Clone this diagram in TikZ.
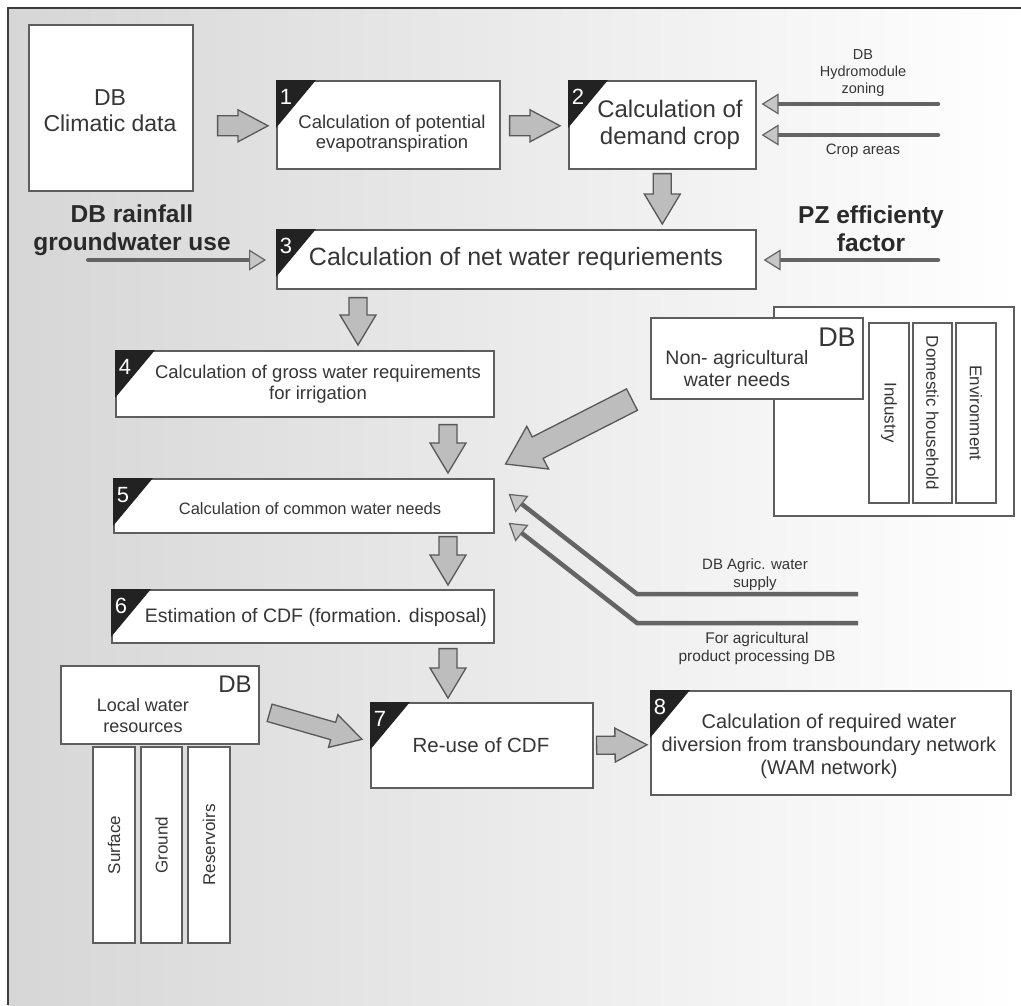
\documentclass[tikz,border=0pt]{standalone}
\usepackage{fontspec}
\setmainfont{Liberation Sans}
\usetikzlibrary{calc,arrows.meta}

\definecolor{boxline}{HTML}{5E5E5E}
\definecolor{txt}{HTML}{363636}
\definecolor{boldtxt}{HTML}{2A2A2A}
\definecolor{arrowfill}{HTML}{BDBDBD}
\definecolor{arrowline}{HTML}{585858}
\definecolor{feedline}{HTML}{646464}
\definecolor{tipfill}{HTML}{C6C6C6}
\definecolor{cornerfill}{HTML}{222222}
\definecolor{framecol}{HTML}{3C3C3C}

\newcommand{\fs}[2]{\fontsize{#1}{#2}\selectfont}

% wide outlined arrow: start, end, half shaft width, half head width, head length
\newcommand{\blockarr}[5]{%
  \path ($(#2)!#5!(#1)$) coordinate (ba-neck);
  \filldraw[barrowstyle] ($(#1)!#3!90:(#2)$) -- ($(ba-neck)!#3!90:(#2)$)
    -- ($(ba-neck)!#4!90:(#2)$) -- (#2) -- ($(ba-neck)!#4!-90:(#2)$)
    -- ($(ba-neck)!#3!-90:(#2)$) -- ($(#1)!#3!-90:(#2)$) -- cycle;}

% black step marker in the upper left corner of a box
\newcommand{\stepcorner}[2]{%
  \fill[cornerfill] (#1.north west) -- ++(40,0) -- ++(-40,48) -- cycle;
  \node[num] (#1-num) at ($(#1.north west)+(10,17)$) {#2};}

\begin{document}
\begin{tikzpicture}[x=1pt,y=-1pt,
  box/.style={draw=boxline, line width=1.6pt, fill=white, inner sep=0pt, anchor=north west},
  vbox/.style={draw=boxline, line width=1.6pt, fill=white, inner sep=0pt, text=txt, font=\fs{17}{20}},
  lbl/.style={text=txt, align=center, inner sep=0pt},
  boldlbl/.style={text=boldtxt, align=center, inner sep=0pt, font=\bfseries\fs{24.5}{28}},
  num/.style={text=white, font=\fs{22}{22}, inner sep=0pt},
  barrowstyle/.style={fill=arrowfill, draw=arrowline, line width=1.3pt, line join=miter},
  feed/.style={draw=feedline, line width=4.5pt, line cap=round,
    -{Triangle[length=17pt, width=21pt, line width=1.2pt, fill=tipfill]}},
]
\useasboundingbox (0,0) rectangle (1021,1005);

% background and frame
\shade[left color=black!16, right color=white] (8,8) rectangle (1021,1005);
\draw[framecol, line width=2pt] (1021,8) -- (8,8) -- (8,1005);

% climatic database
\node[box, minimum width=164, minimum height=166] (db) at (28,24) {};
\node[lbl, font=\fs{23}{26}] (db-t) at (110,111) {DB\\Climatic data};

% main calculation chain
\node[box, minimum width=223, minimum height=88] (b1) at (276,80) {};
\node[lbl, font=\fs{18.5}{20}] (b1-t) at (392,134) {Calculation of potential\\evapotranspiration};
\stepcorner{b1}{1}

\node[box, minimum width=187, minimum height=88] (b2) at (568,80) {};
\node[lbl, font=\fs{24}{27}] (b2-t) at (670,125) {Calculation of\\demand crop};
\stepcorner{b2}{2}

\node[box, minimum width=479, minimum height=59] (b3) at (276,229) {};
\node[lbl, font=\fs{25}{28}] (b3-t) at (516,259) {Calculation of net water requriements};
\stepcorner{b3}{3}

\node[box, minimum width=378, minimum height=66] (b4) at (115,350) {};
\node[lbl, font=\fs{18.5}{21}] (b4-t) at (318,384) {Calculation of gross water requirements\\for irrigation};
\stepcorner{b4}{4}

\node[box, minimum width=380, minimum height=54] (b5) at (113,478) {};
\node[lbl, font=\fs{16.5}{19}] (b5-t) at (310,509) {Calculation of common water needs};
\stepcorner{b5}{5}

\node[box, minimum width=382, minimum height=53] (b6) at (111,589) {};
\node[lbl, font=\fs{19.5}{22}] (b6-t) at (316,617) {Estimation of CDF (formation. disposal)};
\stepcorner{b6}{6}

\node[box, minimum width=222, minimum height=85] (b7) at (370,702) {};
\node[lbl, font=\fs{20.5}{23}] (b7-t) at (481,745) {Re-use of CDF};
\stepcorner{b7}{7}

\node[box, minimum width=360, minimum height=104] (b8) at (650,690) {};
\node[lbl, font=\fs{20}{23}] (b8-t) at (829,746) {Calculation of required water\\diversion from transboundary network\\(WAM network)};
\stepcorner{b8}{8}

% non-agricultural water needs database
\node[box, minimum width=240, minimum height=209] (naout) at (773,306) {};
\node[box, minimum width=212, minimum height=81] (na) at (650,317) {};
\node[lbl, font=\fs{27}{30}] (na-db) at (837,337) {DB};
\node[lbl, font=\fs{19.5}{22}] (na-t) at (737,369) {Non- agricultural\\water needs};
\node[vbox, rotate=-90, minimum width=180, minimum height=40] (ind) at (889,413) {Industry};
\node[vbox, rotate=-90, minimum width=180, minimum height=39] (dom) at (932.5,413) {Domestic household};
\node[vbox, rotate=-90, minimum width=180, minimum height=40] (env) at (976,413) {Environment};

% local water resources database
\node[box, minimum width=198, minimum height=78] (lw) at (60,665) {};
\node[lbl, font=\fs{24}{27}] (lw-db) at (235,684) {DB};
\node[lbl, font=\fs{18}{21}] (lw-t) at (143,716) {Local water\\resources};
\node[vbox, rotate=90, minimum width=196, minimum height=42] (sur) at (114,845) {Surface};
\node[vbox, rotate=90, minimum width=196, minimum height=41] (gro) at (161.5,845) {Ground};
\node[vbox, rotate=90, minimum width=196, minimum height=42] (res) at (209,845) {Reservoirs};

% input labels
\node[lbl, font=\fs{14.5}{17}] (hydro-t) at (863,73) {DB\\Hydromodule\\zoning};
\node[lbl, font=\fs{15}{18}] (crop-t) at (863,151) {Crop areas};
\node[boldlbl] (rain-t) at (132,230) {DB rainfall\\groundwater use};
\node[boldlbl] (pz-t) at (871,229) {PZ efficienty\\factor};
\node[lbl, font=\fs{15}{18}] (agr-t) at (755,575) {DB Agric. water\\supply};
\node[lbl, font=\fs{15.5}{18}] (proc-t) at (757,648) {For agricultural\\product processing DB};

% wide flow arrows
\coordinate (a0s) at ($(db.east |- b1.west)+(24,1)$);
\coordinate (a0e) at ($(b1.west)+(-8,1)$);
\coordinate (a12s) at ($(b1.east)+(9,1)$);
\coordinate (a12e) at ($(b2.west)+(-8,1)$);
\coordinate (a23s) at ($(b2.south)+(0,4)$);
\coordinate (a23e) at ($(b3.north -| b2.south)+(0,-5)$);
\coordinate (a34s) at ($(b3.south west)+(82,8)$);
\coordinate (a34e) at ($(b4.north west)+(243,-5)$);
\coordinate (a45s) at ($(b4.south west)+(333,7)$);
\coordinate (a45e) at ($(b5.north west)+(335,-5)$);
\coordinate (a56s) at ($(b5.south west)+(335,3)$);
\coordinate (a56e) at ($(b6.north west)+(337,-4)$);
\coordinate (a67s) at ($(b6.south west)+(337,5)$);
\coordinate (a67e) at ($(b7.north west)+(78,-4)$);
\coordinate (anas) at ($(na.south west)+(-18,0)$);
\coordinate (anae) at ($(b5.north east)+(11,-14)$);
\coordinate (alws) at ($(lw.east)+(10,8)$);
\coordinate (alwe) at ($(b7.west)+(-8,-6)$);
\coordinate (a78s) at ($(b7.east)+(3,0)$);
\coordinate (a78e) at ($(b8.west)+(-3,2)$);

\blockarr{a0s}{a0e}{10pt}{16pt}{30pt}
\blockarr{a12s}{a12e}{10pt}{16pt}{30pt}
\blockarr{a23s}{a23e}{9pt}{18pt}{30pt}
\blockarr{a34s}{a34e}{9pt}{18pt}{30pt}
\blockarr{a45s}{a45e}{9pt}{18pt}{30pt}
\blockarr{a56s}{a56e}{9pt}{18pt}{30pt}
\blockarr{a67s}{a67e}{9pt}{18pt}{30pt}
\blockarr{anas}{anae}{12pt}{24pt}{36pt}
\blockarr{alws}{alwe}{9pt}{17pt}{30pt}
\blockarr{a78s}{a78e}{9pt}{17pt}{32pt}

% thin input lines
\coordinate (hydro-end) at (938,104);
\coordinate (crop-end) at (938,135);
\coordinate (rain-end) at (88,260);
\coordinate (pz-end) at (938,260);
\coordinate (agr-end) at (858,594);
\coordinate (agr-bend) at (637,594);
\coordinate (proc-end) at (858,623);
\coordinate (proc-bend) at (637,623);

\draw[feed, shorten >=5pt] (hydro-end) -- (b2.east |- hydro-end);
\draw[feed, shorten >=5pt] (crop-end) -- (b2.east |- crop-end);
\draw[feed, line width=4pt, shorten >=10pt] (rain-end) -- (b3.west |- rain-end);
\draw[feed, shorten >=7pt] (pz-end) -- (b3.east |- pz-end);
\draw[feed, line cap=butt] (agr-end) -- (agr-bend) -- ($(b5.east)+(14,-12)$);
\draw[feed, line cap=butt] (proc-end) -- (proc-bend) -- ($(b5.east)+(14,17)$);

\end{tikzpicture}
\end{document}
